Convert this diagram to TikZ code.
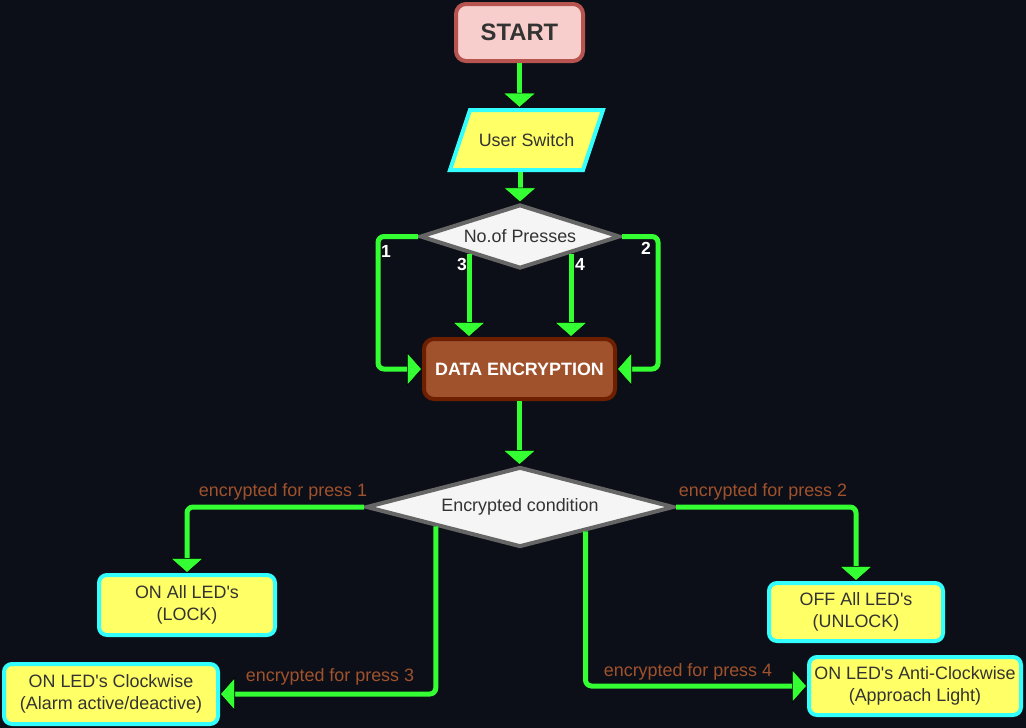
\documentclass[tikz,border=0pt]{standalone}
\usepackage{fontspec}
\setmainfont{Liberation Sans}[Ligatures=TeXOff]
\usetikzlibrary{arrows.meta,shapes.geometric,calc}
\definecolor{bgc}{HTML}{0C0F17}
\definecolor{grn}{HTML}{33FF33}
\definecolor{startfill}{HTML}{F8CECC}
\definecolor{startdraw}{HTML}{B85450}
\definecolor{ylw}{HTML}{FFFF66}
\definecolor{cyn}{HTML}{33FFFF}
\definecolor{dfill}{HTML}{F5F5F5}
\definecolor{ddraw}{HTML}{666666}
\definecolor{encfill}{HTML}{A0522D}
\definecolor{encdraw}{HTML}{6D1F00}
\definecolor{lblc}{HTML}{A0522D}
\definecolor{txt}{HTML}{333333}
\tikzset{
  base/.style={font=\fontsize{17.9}{22}\selectfont, text=txt, align=center, inner sep=0pt},
  startbox/.style={base, rectangle, rounded corners=10pt, draw=startdraw, fill=startfill, line width=4pt,
     minimum width=127pt, minimum height=57pt, font=\fontsize{23.8}{26}\selectfont\bfseries},
  decision/.style={base, diamond, draw=ddraw, fill=dfill, line width=4pt, aspect=3},
  encbox/.style={base, rectangle, rounded corners=10pt, draw=encdraw, fill=encfill, line width=4pt,
     minimum width=191pt, minimum height=60pt, text=white, font=\fontsize{17.9}{22}\selectfont\bfseries},
  outbox/.style={base, rectangle, rounded corners=8pt, draw=cyn, fill=ylw, line width=4pt},
  arr/.style={draw=grn, line width=5pt, rounded corners=6pt,
     -{Triangle[width=34pt,length=15pt,fill=grn,color=black,line width=0.6pt]}},
  lbl/.style={font=\fontsize{17.9}{22}\selectfont, text=lblc, inner sep=0pt},
  num/.style={font=\fontsize{17.5}{20}\selectfont\bfseries, text=white, inner sep=0pt},
}
\begin{document}
\begin{tikzpicture}[x=1pt,y=-1pt]
\fill[bgc] (0,0) rectangle (1026,728);
\useasboundingbox (0,0) rectangle (1026,728);

% nodes
\node[startbox] (start) at (519.5,32.5) {START};

\coordinate (usc) at (526.5,140);
\draw[draw=cyn, fill=ylw, line width=4pt, line join=miter]
  ([shift={(-76.5,30)}]usc) -- ([shift={(-56.5,-30)}]usc) -- ([shift={(76.5,-30)}]usc) -- ([shift={(56.5,30)}]usc) -- cycle;
\node[base, minimum width=120pt, minimum height=64pt] (us) at (usc) {User Switch};

\node[decision, minimum width=200pt, minimum height=64pt] (np) at (520,236.5) {No.of Presses};

\node[encbox] (de) at (519.5,369) {DATA ENCRYPTION};

\node[decision, minimum width=308pt, minimum height=80pt] (enc) at (520,507) {Encrypted condition};

\node[outbox, minimum width=176pt, minimum height=60pt] (onall) at (187,605) {ON All LED's\\(LOCK)};
\node[outbox, minimum width=174pt, minimum height=58pt] (off) at (856,612) {OFF All LED's\\(UNLOCK)};
\node[outbox, minimum width=214pt, minimum height=60pt] (cw) at (111,694) {ON LED's Clockwise\\(Alarm active/deactive)};
\node[outbox, minimum width=212pt, minimum height=58pt] (acw) at (915,686) {ON LED's Anti-Clockwise\\(Approach Light)};

% connectors
\draw[arr] (start.south) -- (start.south |- us.north);
\draw[arr] (us.south -| np.north) -- (np.north);

\draw[arr] (np.west) -| ([xshift=-44pt]de.west) -- (de.west);
\draw[arr] (np.east) -| ([xshift=41pt]de.east) -- (de.east);
\draw[arr] (np.south west) -- (np.south west |- de.north);
\draw[arr] (np.south east) -- (np.south east |- de.north);

\node[num] (n1) at (386,251) {1};
\node[num] (n2) at (646,248) {2};
\node[num] (n3) at (462,264) {3};
\node[num] (n4) at (580,264) {4};

\draw[arr] (de.south) -- (de.south |- enc.north);

\coordinate (p3) at ($(enc.west)!0.46!(enc.south)$);
\coordinate (p4) at ($(enc.east)!0.58!(enc.south)$);

\draw[arr] (enc.west) -| (onall.north);
\draw[arr] (enc.east) -| (off.north);
\draw[arr] (p3) |- (cw.east);
\draw[arr] (p4) |- (acw.west);

\node[lbl] (l1) at (283,492) {encrypted for press 1};
\node[lbl] (l2) at (763,492) {encrypted for press 2};
\node[lbl] (l3) at (330,677) {encrypted for press 3};
\node[lbl] (l4) at (688,672) {encrypted for press 4};
\end{tikzpicture}
\end{document}
